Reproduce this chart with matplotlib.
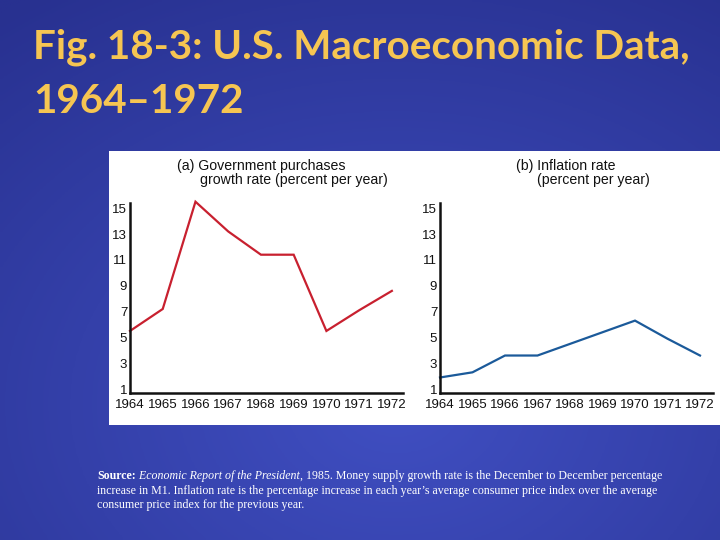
import numpy as np
import matplotlib
matplotlib.use("Agg")
import matplotlib.pyplot as plt
from matplotlib.patches import Rectangle

# ---- data ----
years = [1964, 1965, 1966, 1967, 1968, 1969, 1970, 1971, 1972]
gov_growth = [5.5, 7.2, 15.5, 13.2, 11.4, 11.4, 5.5, 7.1, 8.6]
inflation = [1.9, 2.3, 3.6, 3.6, 4.5, 5.4, 6.3, 4.9, 3.6]
y_ticks = [1, 3, 5, 7, 9, 11, 13, 15]
title_lines = ["Fig. 18-3: U.S. Macroeconomic Data,", "1964\u20131972"]
panel_a_title = ["(a) Government purchases", "growth rate (percent per year)"]
panel_b_title = ["(b) Inflation rate", "(percent per year)"]

W, H = 720, 540
fig = plt.figure(figsize=(7.2, 5.4), dpi=100)

def fx(px):
    return px / W

def fy(py):
    return 1 - py / H

# background gradient
bg = fig.add_axes([0, 0, 1, 1], zorder=-10)
yy, xx = np.mgrid[0:1:200j, 0:1:200j]
r = np.sqrt((xx - 0.55) ** 2 + (yy - 0.75) ** 2)
shade = np.clip(1 - r * 1.1, 0, 1)
c_dark = np.array([0x28, 0x31, 0x90]) / 255
c_light = np.array([0x40, 0x4f, 0xc2]) / 255
img = c_dark[None, None, :] * (1 - shade[..., None]) + c_light[None, None, :] * shade[..., None]
bg.imshow(img, extent=[0, 1, 0, 1], aspect="auto", origin="upper")
bg.set_xlim(0, 1)
bg.set_ylim(0, 1)
bg.axis("off")

# white panel
fig.patches.append(Rectangle((fx(109), fy(425)), fx(720) - fx(109), fy(151) - fy(425),
                             transform=fig.transFigure, facecolor="white",
                             edgecolor="none", zorder=-5))

def make_axes(left, right, series, color, xmax):
    ax = fig.add_axes([fx(left), fy(393), fx(right) - fx(left), fy(203) - fy(393)])
    ax.set_facecolor("none")
    ax.plot(years, series, color=color, lw=1.6, solid_joinstyle="miter", clip_on=False)
    ax.set_xlim(1964, xmax)
    ax.set_ylim(0.7, 15.4)
    ax.set_xticks(years)
    ax.set_xticklabels([str(y) for y in years])
    ax.set_yticks(y_ticks)
    ax.set_yticklabels([str(v) for v in y_ticks])
    for s in ["top", "right"]:
        ax.spines[s].set_visible(False)
    for s in ["left", "bottom"]:
        ax.spines[s].set_linewidth(1.8)
        ax.spines[s].set_color("#111111")
    ax.tick_params(length=0, labelsize=9.5, colors="#111111")
    ax.tick_params(axis="y", pad=2)
    ax.tick_params(axis="x", pad=4)
    for lab in ax.get_xticklabels() + ax.get_yticklabels():
        lab.set_family("Liberation Sans")
    return ax

make_axes(130, 403, gov_growth, "#c8202f", 1972.34)
make_axes(440, 713, inflation, "#1b5a9a", 1972.4)

tkw = dict(fontsize=10.2, family="Liberation Sans", color="#111111", va="center", ha="left")
fig.text(fx(177), fy(166), panel_a_title[0], **tkw)
fig.text(fx(200), fy(180), panel_a_title[1], **tkw)
fig.text(fx(516), fy(166), panel_b_title[0], **tkw)
fig.text(fx(537), fy(180), panel_b_title[1], **tkw)

# main title
title_kw = dict(family="Lato", weight="bold", color="#f6c552", ha="left", va="baseline")
t1 = fig.text(fx(33), fy(58), title_lines[0], fontsize=30, **title_kw)
fig.canvas.draw()
rend = fig.canvas.get_renderer()
wpx = t1.get_window_extent(rend).width
fs = 30 * 655 / wpx
t1.set_fontsize(fs)
fig.text(fx(33), fy(113), title_lines[1], fontsize=fs, **title_kw)

# source note
skw = dict(family="Liberation Serif", color="white", fontsize=8.6)
s1 = fig.text(fx(97), fy(479), "Source:", weight="bold", va="baseline", **skw)
s2 = plt.annotate(" Economic Report of the President", xy=(1, 0), xycoords=s1,
                  va="bottom", ha="left", style="italic", annotation_clip=False, **skw)
s3 = plt.annotate(", 1985. Money supply growth rate is the December to December percentage",
                  xy=(1, 0), xycoords=s2, va="bottom", ha="left", annotation_clip=False, **skw)
fig.text(fx(97), fy(494),
         "increase in M1. Inflation rate is the percentage increase in each year\u2019s average consumer price index over the average",
         va="baseline", **skw)
fig.text(fx(97), fy(508), "consumer price index for the previous year.", va="baseline", **skw)

fig.savefig("out.png", dpi=100)
